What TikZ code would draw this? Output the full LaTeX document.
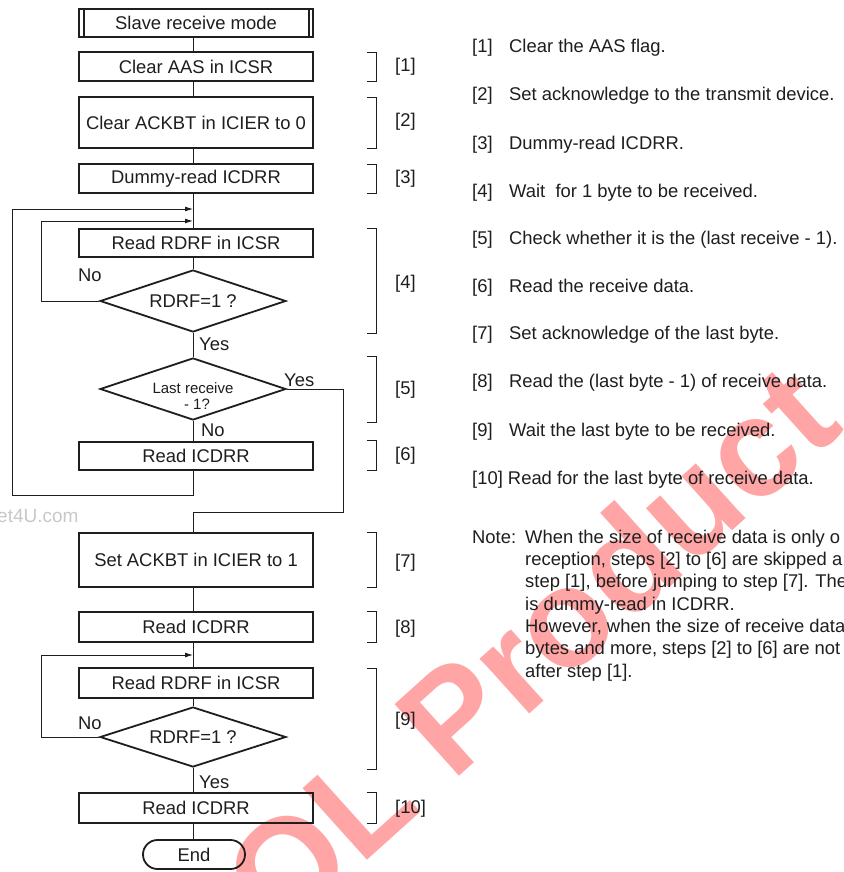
\documentclass[tikz,border=0pt]{standalone}
\usepackage{fontspec}
\setmainfont{Liberation Sans}
\usetikzlibrary{shapes.geometric,arrows.meta}
\newcommand\fmain{\fontsize{18.4}{22.3}\selectfont}
\newcommand\fsmall{\fontsize{15}{16}\selectfont}
\definecolor{ink}{RGB}{30,30,30}
\definecolor{wmark}{RGB}{255,165,165}
\definecolor{wgray}{RGB}{200,200,200}
\begin{document}
\begin{tikzpicture}[x=1pt,y=-1pt,
  every node/.style={font=\fmain, text=ink, inner sep=0pt},
  box/.style={draw=ink, line width=1.8pt, minimum width=234pt, inner sep=0pt},
  dia/.style={draw=ink, diamond, aspect=3, line width=1.8pt, minimum width=186pt, minimum height=62pt, inner sep=0pt},
  conn/.style={draw=ink, line width=0.9pt},
  arr/.style={conn, -{Latex[length=8pt,width=5pt]}},
  brk/.style={draw=ink, line width=0.9pt},
  lbl/.style={anchor=west},
  txt/.style={anchor=base west}]

\useasboundingbox (0,0) rectangle (843,872);
\clip (0,0) rectangle (843,872);
\fill[white] (0,0) rectangle (843,872);

% watermarks
\node[rotate=42, anchor=west, text=wmark, font=\fontsize{140}{140}\selectfont\bfseries] (wm) at (246,902) {OL Product};
\node[txt, text=wgray, font=\fontsize{19}{22}\selectfont] (wm2) at (-3,522) {et4U.com};

\coordinate (mx) at (193,0);

% flowchart nodes
\node[box, minimum height=28pt] (start) at (196,23) {Slave receive mode};
\draw[ink, line width=1.8pt] ([xshift=6pt]start.north west) -- ([xshift=6pt]start.south west);
\draw[ink, line width=1.8pt] ([xshift=-5pt]start.north east) -- ([xshift=-5pt]start.south east);
\node[box, minimum height=29pt] (c1) at (196,66.5) {Clear AAS in ICSR};
\node[box, minimum height=51pt] (c2) at (196,122.5) {Clear ACKBT in ICIER to 0};
\node[box, minimum height=29pt] (c3) at (196,178.5) {Dummy-read ICDRR};
\node[box, minimum height=28pt] (c4) at (196,243) {Read RDRF in ICSR};
\node[dia] (d1) at (193,301) {RDRF=1 ?};
\node[dia] (d2) at (193,389) {};
\node[font=\fsmall, align=center] (d2t) at (193,396) {Last receive\\\hspace*{8pt}- 1?};
\node[box, minimum height=28pt] (c6) at (196,456) {Read ICDRR};
\node[box, minimum height=54pt] (c7) at (196,560) {Set ACKBT in ICIER to 1};
\node[box, minimum height=30pt] (c8) at (196,627) {Read ICDRR};
\node[box, minimum height=30pt] (c9) at (196,683) {Read RDRF in ICSR};
\node[dia, minimum height=60pt] (d3) at (193,737) {RDRF=1 ?};
\node[box, minimum height=30pt] (c10) at (196,808) {Read ICDRR};
\node[draw=ink, line width=1.8pt, rounded corners=14.5pt, minimum width=102pt, minimum height=29pt] (end) at (194,854.5) {End};

% branch labels
\node[lbl] (no1) at (78,275) {No};
\node[lbl] (yes1) at (199,344) {Yes};
\node[lbl] (yes2) at (284,380) {Yes};
\node[lbl] (no2) at (201,430) {No};
\node[lbl] (no3) at (78,723) {No};
\node[lbl] (yes3) at (199,782) {Yes};

% join points
\coordinate (j1) at (193,209);
\coordinate (j2) at (193,221);
\coordinate (j3) at (193,655);

% connectors
\draw[conn] (start.south -| mx) -- (c1.north -| mx);
\draw[conn] (c1.south -| mx) -- (c2.north -| mx);
\draw[conn] (c2.south -| mx) -- (c3.north -| mx);
\draw[conn] (c3.south -| mx) -- (c4.north -| mx);
\draw[conn] (c4.south -| mx) -- (d1.north);
\draw[conn] (d1.south) -- (d2.north);
\draw[conn] (d2.south) -- (c6.north -| mx);
\draw[arr] (d1.west) -- (41,301) -- (41,221) -- (j2);
\draw[arr] (c6.south -| mx) -- (193,495) -- (12,495) -- (12,209) -- (j1);
\draw[conn] (d2.east) -- (343,389) -- (343,512) -- (193,512) -- (c7.north -| mx);
\draw[conn] (c7.south -| mx) -- (c8.north -| mx);
\draw[conn] (c8.south -| mx) -- (c9.north -| mx);
\draw[conn] (c9.south -| mx) -- (d3.north);
\draw[arr] (d3.west) -- (41,737) -- (41,655) -- (j3);
\draw[conn] (d3.south) -- (c10.north -| mx);
\draw[conn] (c10.south -| mx) -- (end.north -| mx);

% step brackets
\draw[brk] (367,52) -- (376,52) -- (376,81) -- (367,81);
\draw[brk] (367,97) -- (376,97) -- (376,148) -- (367,148);
\draw[brk] (367,164) -- (376,164) -- (376,193) -- (367,193);
\draw[brk] (367,228) -- (376,228) -- (376,333) -- (367,333);
\draw[brk] (367,356) -- (376,356) -- (376,422) -- (367,422);
\draw[brk] (367,440) -- (376,440) -- (376,470) -- (367,470);
\draw[brk] (367,532) -- (376,532) -- (376,587) -- (367,587);
\draw[brk] (367,611) -- (376,611) -- (376,642) -- (367,642);
\draw[brk] (367,668) -- (376,668) -- (376,769) -- (367,769);
\draw[brk] (367,792) -- (376,792) -- (376,823) -- (367,823);
\node[txt] (b1) at (395,72) {[1]};
\node[txt] (b2) at (395,127) {[2]};
\node[txt] (b3) at (395,183) {[3]};
\node[txt] (b4) at (395,288) {[4]};
\node[txt] (b5) at (395,394) {[5]};
\node[txt] (b6) at (395,460) {[6]};
\node[txt] (b7) at (395,567) {[7]};
\node[txt] (b8) at (395,633) {[8]};
\node[txt] (b9) at (395,725) {[9]};
\node[txt] (b10) at (395,813) {[10]};

% explanation list
\node[txt] (n1) at (472,53) {[1]};
\node[txt] (t1) at (509,53) {Clear the AAS flag.};
\node[txt] (n2) at (472,101) {[2]};
\node[txt] (t2) at (509,101) {Set acknowledge to the transmit device.};
\node[txt] (n3) at (472,149) {[3]};
\node[txt] (t3) at (509,149) {Dummy-read ICDRR.};
\node[txt] (n4) at (472,197) {[4]};
\node[txt] (t4) at (509,197) {Wait\ \ for 1 byte to be received.};
\node[txt] (n5) at (472,244) {[5]};
\node[txt] (t5) at (509,244) {Check whether it is the (last receive - 1).};
\node[txt] (n6) at (472,292.5) {[6]};
\node[txt] (t6) at (509,292.5) {Read the receive data.};
\node[txt] (n7) at (472,339) {[7]};
\node[txt] (t7) at (509,339) {Set acknowledge of the last byte.};
\node[txt] (n8) at (472,387) {[8]};
\node[txt] (t8) at (509,387) {Read the (last byte - 1) of receive data.};
\node[txt] (n9) at (472,436) {[9]};
\node[txt] (t9) at (509,436) {Wait the last byte to be received.};
\node[txt] (n10) at (472,484) {[10] Read for the last byte of receive data.};

% note
\node[txt] (note) at (472,543) {Note:};
\node[txt] (nl1) at (525,543) {When the size of receive data is only o};
\node[txt] (nl2) at (525,565.3) {reception, steps [2] to [6] are skipped a};
\node[txt] (nl3) at (525,587.6) {step [1], before jumping to step [7]. The};
\node[txt] (nl4) at (525,610) {is dummy-read in ICDRR.};
\node[txt] (nl5) at (525,632.2) {However, when the size of receive data};
\node[txt] (nl6) at (525,654.5) {bytes and more, steps [2] to [6] are not};
\node[txt] (nl7) at (525,677) {after step [1].};
\end{tikzpicture}
\end{document}
